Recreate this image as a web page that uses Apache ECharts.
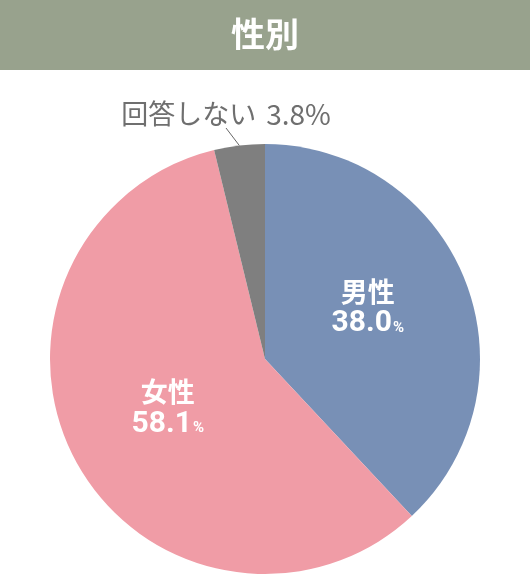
<!DOCTYPE html>
<html>
<head>
<meta charset="utf-8">
<script src="https://cdn.jsdelivr.net/npm/echarts@6/dist/echarts.min.js"></script>
<style>
html, body { margin: 0; padding: 0; background: #fff; }
#chart { width: 530px; height: 580px; }
</style>
</head>
<body>
<div id="chart"></div>
<script>
const titleText = '性別';
const categories = ['男性', '女性', '回答しない'];
const values = [38.0, 58.1, 3.8];
const colors = ['#7890b6', '#f09ca6', '#7f7f7f'];

// ラベル（内側は白抜き、回答しないは外側）
function pieData() {
    return categories.map((name, i) => {
        let item = { name: name, value: values[i], itemStyle: { color: colors[i] } };
        if (i === 2) {
            item.label = {
                position: 'outside',
                formatter: p => `{o|${p.name}}{q|${p.value.toFixed(1)}%}`
            };
            item.labelLine = { show: true, length: 8, length2: 0, lineStyle: { color: '#666', width: 1 } };
        }
        return item;
    });
}

let myEchart = echarts.init(document.getElementById('chart'));
let option = {
    animation: false,
    graphic: [{
        type: 'rect', left: 0, top: 0,
        shape: { width: 530, height: 70 },
        style: { fill: '#98a28d' }
    }],
    title: {
        text: titleText,
        left: 'center', top: 12,
        textStyle: { color: '#fff', fontSize: 34, fontWeight: 'bold', fontFamily: 'Noto Sans CJK JP' }
    },
    series: [{
        type: 'pie',
        center: [265, 359],
        radius: [0, 215],
        startAngle: 90,
        clockwise: true,
        label: {
            show: true,
            position: 'inside',
            formatter: p => `{n|${p.name}}\n{v|${p.value.toFixed(1)}}{p|%}`,
            rich: {
                n: { color: '#fff', fontSize: 27, fontFamily: 'Noto Sans CJK JP', fontWeight: 'bold', lineHeight: 31, align: 'center' },
                v: { color: '#fff', fontSize: 30, fontFamily: 'Roboto', fontWeight: 'bold', lineHeight: 33 },
                p: { color: '#fff', fontSize: 15, fontFamily: 'Roboto', fontWeight: 'bold', padding: [9, 0, 0, 1] },
                o: { color: '#6f6f6f', fontSize: 27, fontFamily: 'Noto Sans CJK JP', lineHeight: 32, padding: [0, 10, 0, 0] },
                q: { color: '#6f6f6f', fontSize: 28, fontFamily: 'Noto Sans CJK JP', lineHeight: 32 }
            }
        },
        labelLine: { show: false },
        labelLayout: p => p.dataIndex === 2 ? { x: 226, y: 114, align: 'center', verticalAlign: 'middle' }
            : (p.dataIndex === 1 ? { dy: -3 } : { dy: -10 }),
        data: pieData()
    }]
};
myEchart.setOption(option);
</script>
</body>
</html>
